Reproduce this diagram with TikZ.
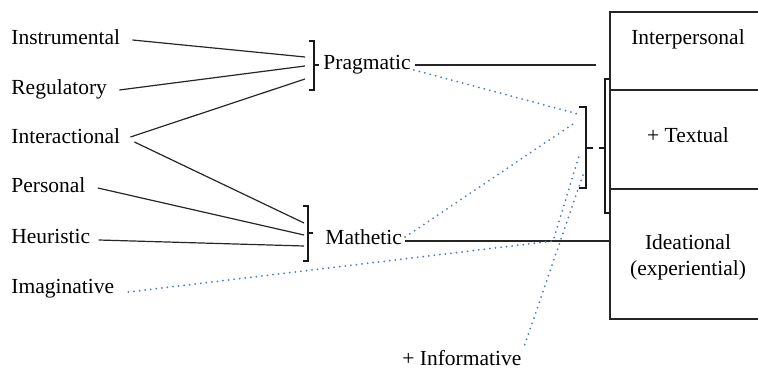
\documentclass[tikz,border=0pt]{standalone}
\usepackage{fontspec}
\setmainfont{Liberation Serif}
\definecolor{dotblue}{RGB}{74,122,196}

\tikzset{
    lbl/.style={font=\fontsize{10.75}{13}\selectfont, inner sep=0pt, text height=7pt, text depth=2pt, anchor=base west},
    conn/.style={line width=0.6pt, black!85},
    dotconn/.style={dotblue, line width=1pt, dash pattern=on 0pt off 2.8pt, line cap=round},
    brack/.style={line width=0.7pt, black!90},
}

\begin{document}
\begin{tikzpicture}[x=0.5pt, y=-0.5pt]
        \useasboundingbox (0,0) rectangle (758,368);

        % Left column: functions
        \foreach \nm/\txt/\yy in {inst/Instrumental/45, reg/Regulatory/95, inter/Interactional/144,
                                   pers/Personal/193, heur/Heuristic/243, imag/Imaginative/293} {
            \node[lbl] (\nm) at (11,\yy) {\txt};
        }

        % Middle: Pragmatic and Mathetic with brackets
        \node[lbl] (prag) at (323,70) {Pragmatic};
        \node[lbl] (math) at (325,244) {Mathetic};
        \node[lbl, text depth=0pt] (info) at (402,365) {+ Informative};

        \draw[brack] (309,41) -- (314,41) -- (314,90) -- (309,90);
        \draw[brack] (314,65) -- (319,65);
        \draw[brack] (303,206) -- (308,206) -- (308,261) -- (303,261);
        \draw[brack] (308,233) -- (313,233);

        \coordinate (pin1) at (305,57);
        \coordinate (pin2) at (305,66);
        \coordinate (pin3) at (305,79);
        \coordinate (min1) at (304,223);
        \coordinate (min2) at (304,235);
        \coordinate (min3) at (304,246);

        % Right: metafunction column
        \draw[conn] (770,12) -- (610,12) -- (610,319) -- (770,319);
        \draw[conn] (610,90) -- (770,90);
        \draw[conn] (610,189) -- (770,189);
        \node[lbl, anchor=base] (interp) at (688,45) {Interpersonal};
        \node[lbl, anchor=base] (textual) at (688,143) {+ Textual};
        \node[font=\fontsize{10.75}{13}\selectfont, align=center, inner sep=0pt] (ideat) at (688,257) {Ideational\\(experiential)};

        % Brackets in front of the column
        \draw[brack] (579,107) -- (586,107) -- (586,188) -- (579,188);
        \draw[brack] (586,148) -- (593,148);
        \draw[brack, line width=1pt] (599,148) -- (604,148);
        \draw[brack] (610,79) -- (605,79) -- (605,213) -- (610,213);

        \coordinate (rin1) at (578,114);
        \coordinate (rin2) at (576,122);
        \coordinate (rin3) at (579,156);
        \coordinate (rin4) at (584,172);
        \coordinate (imbend) at (553,241);
        \coordinate (pend) at (596,65);
        \coordinate (mend) at (610,241);

        % Solid connectors
        \draw[conn] ([xshift=6pt]inst.east) -- (pin1);
        \draw[conn] ([xshift=6pt]reg.east) -- (pin2);
        \draw[conn] ([xshift=5pt,yshift=1pt]inter.east) -- (pin3);
        \draw[conn] ([xshift=7pt,yshift=-1.5pt]inter.east) -- (min1);
        \draw[conn] ([xshift=6pt]pers.east) -- (min2);
        \draw[conn] ([xshift=4pt,yshift=-1pt]heur.east) -- (min3);
        \draw[conn] ([xshift=2pt]prag.east) -- (pend);
        \draw[conn] ([xshift=1.5pt,yshift=-1pt]math.east) -- (mend);

        % Dotted connectors
        \draw[dotconn] ([xshift=1.5pt]prag.base east) -- (rin1);
        \draw[dotconn] ([xshift=1.5pt,yshift=1pt]math.east) -- (rin2);
        \draw[dotconn] ([xshift=7pt,yshift=-2pt]imag.east) -- (imbend) -- (rin3);
        \draw[dotconn] ([xshift=1.5pt,yshift=3pt]info.north east) -- (rin4);

    \end{tikzpicture}
\end{document}
